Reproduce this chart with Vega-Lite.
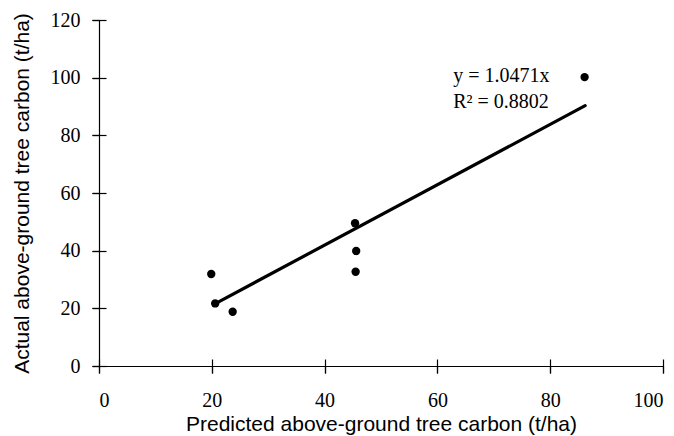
{
  "$schema": "https://vega.github.io/schema/vega-lite/v6.json",
  "width": 564,
  "height": 346,
  "autosize": {"type": "none"},
  "padding": {"left": 99, "top": 20, "right": 11, "bottom": 70},
  "background": "white",
  "config": {
    "view": {"stroke": null},
    "axis": {
      "domainColor": "black",
      "domainWidth": 1.2,
      "tickColor": "black",
      "tickWidth": 1.2,
      "grid": false,
      "labelFont": "Liberation Serif",
      "labelFontSize": 20,
      "labelColor": "black",
      "titleFont": "Liberation Sans",
      "titleFontSize": 21,
      "titleFontWeight": "normal",
      "titleColor": "black"
    }
  },
  "datasets": {
    "points": [
      {"predicted": 19.9, "actual": 31.9},
      {"predicted": 20.6, "actual": 21.7},
      {"predicted": 23.7, "actual": 18.8},
      {"predicted": 45.4, "actual": 49.5},
      {"predicted": 45.6, "actual": 39.9},
      {"predicted": 45.5, "actual": 32.7},
      {"predicted": 86.1, "actual": 100.2}
    ],
    "trend": [
      {"predicted": 20.3, "actual": 21.3},
      {"predicted": 86.2, "actual": 90.3}
    ],
    "notes": [
      {"predicted": 62.8, "actual": 98.4, "label": "y = 1.0471x"},
      {"predicted": 62.8, "actual": 89.4, "label": "R² = 0.8802"}
    ]
  },
  "layer": [
    {
      "data": {"name": "points"},
      "mark": {"type": "point", "filled": true, "shape": "circle", "size": 70, "color": "black", "opacity": 1},
      "encoding": {
        "x": {
          "field": "predicted", "type": "quantitative",
          "scale": {"domain": [0, 100], "nice": false, "zero": true},
          "axis": {"values": [0, 20, 40, 60, 80, 100], "tickSize": 7, "labelPadding": 17, "titlePadding": 3,
                   "title": "Predicted above-ground tree carbon (t/ha)"}
        },
        "y": {
          "field": "actual", "type": "quantitative",
          "scale": {"domain": [0, 120], "nice": false},
          "axis": {"values": [0, 20, 40, 60, 80, 100, 120], "tickSize": 7, "labelPadding": 12, "titlePadding": 18,
                   "title": "Actual above-ground tree carbon (t/ha)"}
        }
      }
    },
    {
      "data": {"name": "trend"},
      "mark": {"type": "line", "color": "black", "strokeWidth": 3.2, "strokeCap": "round"},
      "encoding": {
        "x": {
          "field": "predicted", "type": "quantitative",
          "axis": {"orient": "bottom", "values": [0, 20, 40, 60, 80, 100], "domain": false, "labels": false, "title": null, "tickSize": 14, "offset": -7}
        },
        "y": {
          "field": "actual", "type": "quantitative",
          "axis": {"orient": "left", "values": [0, 20, 40, 60, 80, 100, 120], "domain": false, "labels": false, "title": null, "tickSize": 14, "offset": -7}
        }
      }
    },
    {
      "data": {"name": "notes"},
      "mark": {"type": "text", "align": "left", "baseline": "alphabetic", "font": "Liberation Serif", "fontSize": 20, "color": "black"},
      "encoding": {
        "x": {"field": "predicted", "type": "quantitative", "axis": null},
        "y": {"field": "actual", "type": "quantitative", "axis": null},
        "text": {"field": "label"}
      }
    }
  ],
  "resolve": {"axis": {"x": "independent", "y": "independent"}}
}
